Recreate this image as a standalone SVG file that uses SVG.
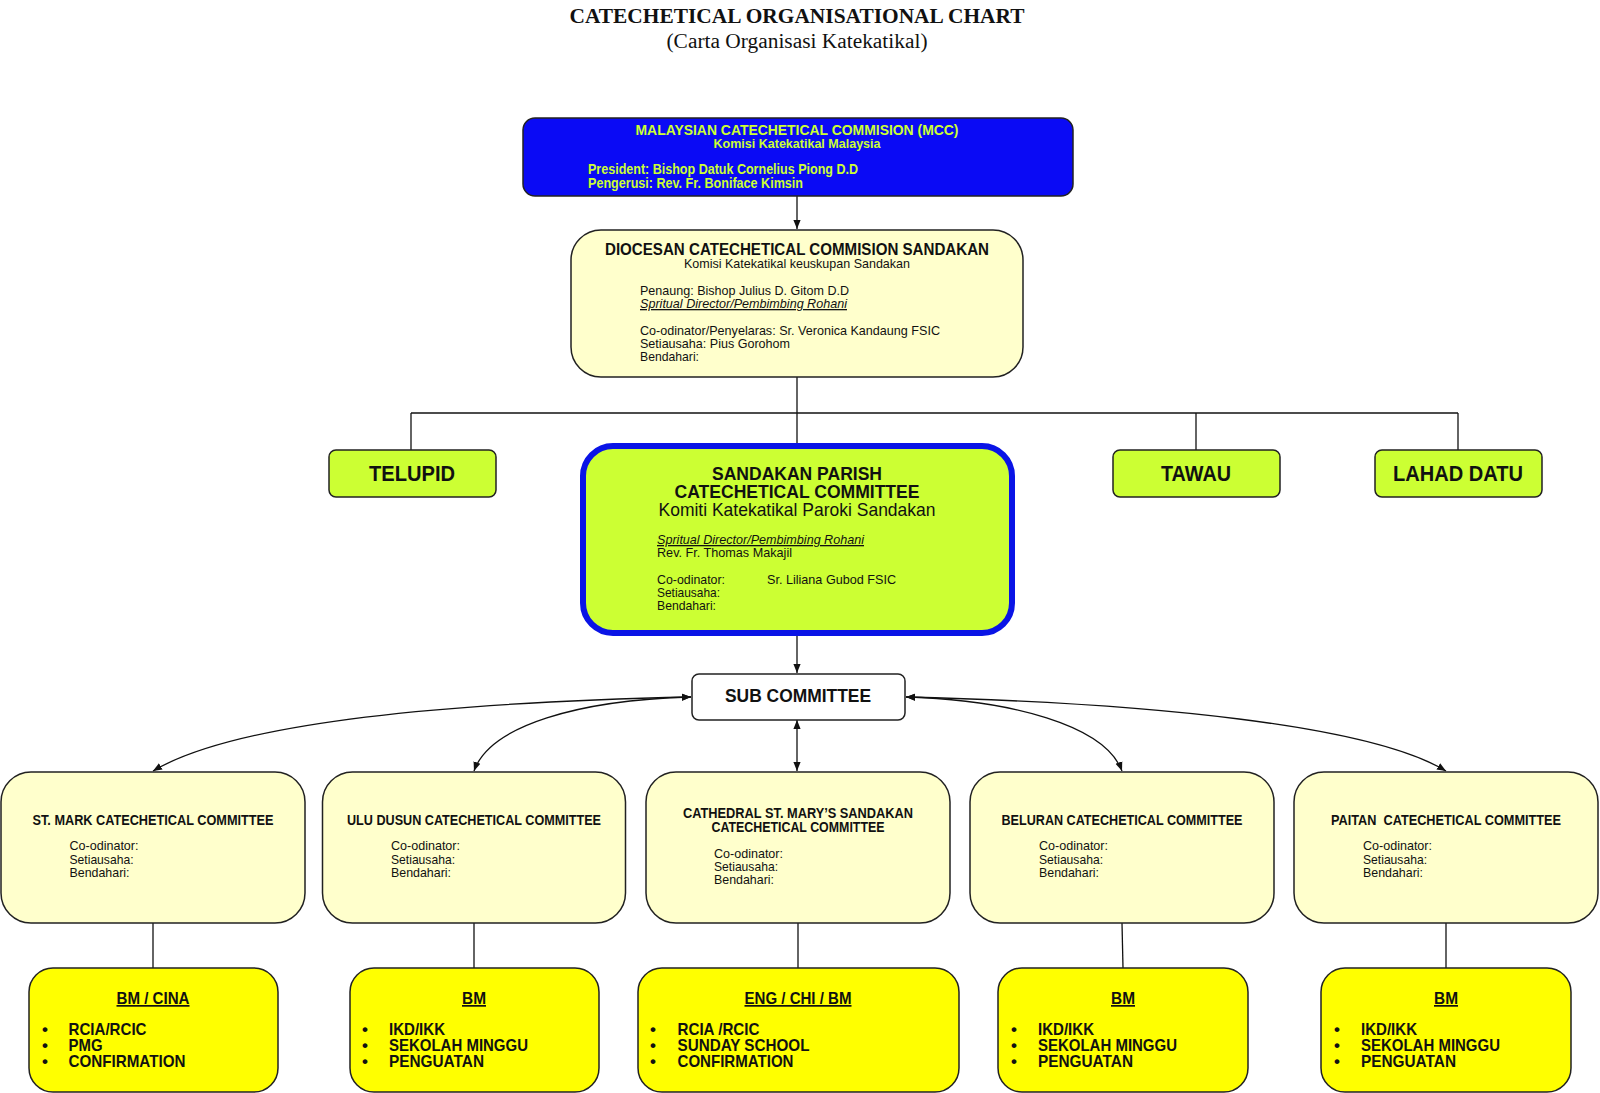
<svg xmlns="http://www.w3.org/2000/svg" width="1600" height="1093" viewBox="0 0 1600 1093">
<style>
.bg{fill:#ffffff}
.box{stroke:#222;stroke-width:1.5}
.cream{fill:#FFFFCC}
.lime{fill:#CCFF33}
.yel{fill:#FFFF00}
.blue{fill:#0A0AF5}
.t{font-family:"Liberation Sans Narrow","Liberation Sans",Arial,sans-serif;fill:#111}
.b{font-weight:bold}
.c{text-anchor:middle}
.i{font-style:italic;text-decoration:underline}
.u{text-decoration:underline}
.y{fill:#CCFF33}
.conn{fill:none;stroke:#111;stroke-width:1.3}
.ttl{font-family:"Liberation Serif","Times New Roman",serif;fill:#111;text-anchor:middle}
</style>
<defs>
<marker id="ah" viewBox="0 0 10 10" refX="10" refY="5" markerWidth="9" markerHeight="9" markerUnits="userSpaceOnUse" orient="auto-start-reverse">
<path d="M0,1 L10,5 L0,9 z" fill="#111"/>
</marker>
</defs>
<rect class="bg" x="0" y="0" width="1600" height="1093"/>

<g id="title">
<text class="ttl" x="797" y="23" font-size="20" font-weight="bold" textLength="455" lengthAdjust="spacingAndGlyphs">CATECHETICAL ORGANISATIONAL CHART</text>
<text class="ttl" x="797" y="48" font-size="20" textLength="261" lengthAdjust="spacingAndGlyphs">(Carta Organisasi Katekatikal)</text>
</g>

<g id="connectors">
<line class="conn" x1="797" y1="196" x2="797" y2="229" marker-end="url(#ah)"/>
<line class="conn" x1="797" y1="377" x2="797" y2="444"/>
<line class="conn" x1="411" y1="413" x2="1458" y2="413"/>
<line class="conn" x1="411" y1="413" x2="411" y2="450"/>
<line class="conn" x1="1196" y1="413" x2="1196" y2="450"/>
<line class="conn" x1="1458" y1="413" x2="1458" y2="450"/>
<line class="conn" x1="797" y1="636" x2="797" y2="673" marker-end="url(#ah)"/>
<path class="conn" d="M691,697 C420,703 230,725 153,771" marker-start="url(#ah)" marker-end="url(#ah)"/>
<path class="conn" d="M691,697 C580,700 490,725 474,771" marker-start="url(#ah)" marker-end="url(#ah)"/>
<line class="conn" x1="797" y1="720" x2="797" y2="771" marker-start="url(#ah)" marker-end="url(#ah)"/>
<path class="conn" d="M906,697 C1010,700 1105,725 1122,771" marker-start="url(#ah)" marker-end="url(#ah)"/>
<path class="conn" d="M906,697 C1150,703 1370,725 1446,771" marker-start="url(#ah)" marker-end="url(#ah)"/>
<line class="conn" x1="153" y1="923" x2="153" y2="968"/>
<line class="conn" x1="474" y1="923" x2="474" y2="968"/>
<line class="conn" x1="798" y1="923" x2="798" y2="968"/>
<line class="conn" x1="1122" y1="923" x2="1123" y2="968"/>
<line class="conn" x1="1446" y1="923" x2="1446" y2="968"/>
</g>

<g id="mcc">
<rect class="box blue" x="523" y="118" width="550" height="78" rx="12"/>
<text class="t b c y" x="797" y="135" font-size="15" textLength="323" lengthAdjust="spacingAndGlyphs">MALAYSIAN CATECHETICAL COMMISION (MCC)</text>
<text class="t b c y" x="797" y="148" font-size="13" textLength="167" lengthAdjust="spacingAndGlyphs">Komisi Katekatikal Malaysia</text>
<text class="t b y" x="588" y="174" font-size="14" textLength="270" lengthAdjust="spacingAndGlyphs">President: Bishop Datuk Cornelius Piong D.D</text>
<text class="t b y" x="588" y="188" font-size="14" textLength="215" lengthAdjust="spacingAndGlyphs">Pengerusi: Rev. Fr. Boniface Kimsin</text>
</g>

<g id="diocesan">
<rect class="box cream" x="571" y="230" width="452" height="147" rx="30"/>
<text class="t b c" x="797" y="254.5" font-size="16" textLength="384" lengthAdjust="spacingAndGlyphs">DIOCESAN CATECHETICAL COMMISION SANDAKAN</text>
<text class="t c" x="797" y="268" font-size="13" textLength="226" lengthAdjust="spacingAndGlyphs">Komisi Katekatikal keuskupan Sandakan</text>
<text class="t" x="640" y="295" font-size="13" textLength="209" lengthAdjust="spacingAndGlyphs">Penaung: Bishop Julius D. Gitom D.D</text>
<text class="t i" x="640" y="308" font-size="13" textLength="207" lengthAdjust="spacingAndGlyphs">Spritual Director/Pembimbing Rohani</text>
<text class="t" x="640" y="334.5" font-size="13" textLength="300" lengthAdjust="spacingAndGlyphs">Co-odinator/Penyelaras: Sr. Veronica Kandaung FSIC</text>
<text class="t" x="640" y="347.5" font-size="13" textLength="150" lengthAdjust="spacingAndGlyphs">Setiausaha: Pius Gorohom</text>
<text class="t" x="640" y="360.5" font-size="13" textLength="59" lengthAdjust="spacingAndGlyphs">Bendahari:</text>
</g>

<g id="telupid">
<rect class="box lime" x="329" y="450" width="167" height="47" rx="7"/>
<text class="t b c" x="412" y="481" font-size="22" textLength="86" lengthAdjust="spacingAndGlyphs">TELUPID</text>
</g>
<g id="tawau">
<rect class="box lime" x="1113" y="450" width="167" height="47" rx="7"/>
<text class="t b c" x="1196" y="481" font-size="22" textLength="70" lengthAdjust="spacingAndGlyphs">TAWAU</text>
</g>
<g id="lahad-datu">
<rect class="box lime" x="1375" y="450" width="167" height="47" rx="7"/>
<text class="t b c" x="1458" y="481" font-size="22" textLength="130" lengthAdjust="spacingAndGlyphs">LAHAD DATU</text>
</g>

<g id="sandakan-parish">
<rect x="583" y="446" width="429" height="187" rx="30" fill="#CCFF33" stroke="#0A14E6" stroke-width="6"/>
<text class="t b c" x="797" y="480" font-size="19" textLength="170" lengthAdjust="spacingAndGlyphs">SANDAKAN PARISH</text>
<text class="t b c" x="797" y="498" font-size="19" textLength="245" lengthAdjust="spacingAndGlyphs">CATECHETICAL COMMITTEE</text>
<text class="t c" x="797" y="516" font-size="19" textLength="277" lengthAdjust="spacingAndGlyphs">Komiti Katekatikal Paroki Sandakan</text>
<text class="t i" x="657" y="544" font-size="13" textLength="207" lengthAdjust="spacingAndGlyphs">Spritual Director/Pembimbing Rohani</text>
<text class="t" x="657" y="557" font-size="13" textLength="135" lengthAdjust="spacingAndGlyphs">Rev. Fr. Thomas Makajil</text>
<text class="t" x="657" y="583.5" font-size="13" textLength="68" lengthAdjust="spacingAndGlyphs">Co-odinator:</text>
<text class="t" x="767" y="583.5" font-size="13" textLength="129" lengthAdjust="spacingAndGlyphs">Sr. Liliana Gubod FSIC</text>
<text class="t" x="657" y="596.5" font-size="13" textLength="63" lengthAdjust="spacingAndGlyphs">Setiausaha:</text>
<text class="t" x="657" y="609.5" font-size="13" textLength="59" lengthAdjust="spacingAndGlyphs">Bendahari:</text>
</g>

<g id="sub-committee">
<rect class="box" fill="#ffffff" x="692" y="674" width="213" height="46" rx="7"/>
<text class="t b c" x="798" y="702" font-size="19" textLength="146" lengthAdjust="spacingAndGlyphs">SUB COMMITTEE</text>
</g>

<g id="st-mark">
<rect class="box cream" x="1" y="772" width="304" height="151" rx="30"/>
<text class="t b c" x="153" y="824.5" font-size="14" textLength="241" lengthAdjust="spacingAndGlyphs">ST. MARK CATECHETICAL COMMITTEE</text>
<text class="t" x="69.5" y="850" font-size="13" textLength="69" lengthAdjust="spacingAndGlyphs">Co-odinator:</text>
<text class="t" x="69.5" y="863.5" font-size="13" textLength="64" lengthAdjust="spacingAndGlyphs">Setiausaha:</text>
<text class="t" x="69.5" y="876.5" font-size="13" textLength="60" lengthAdjust="spacingAndGlyphs">Bendahari:</text>
</g>

<g id="ulu-dusun">
<rect class="box cream" x="322.5" y="772" width="303" height="151" rx="30"/>
<text class="t b c" x="474" y="824.5" font-size="14" textLength="254" lengthAdjust="spacingAndGlyphs">ULU DUSUN CATECHETICAL COMMITTEE</text>
<text class="t" x="391" y="850" font-size="13" textLength="69" lengthAdjust="spacingAndGlyphs">Co-odinator:</text>
<text class="t" x="391" y="863.5" font-size="13" textLength="64" lengthAdjust="spacingAndGlyphs">Setiausaha:</text>
<text class="t" x="391" y="876.5" font-size="13" textLength="60" lengthAdjust="spacingAndGlyphs">Bendahari:</text>
</g>

<g id="cathedral">
<rect class="box cream" x="646" y="772" width="304" height="151" rx="30"/>
<text class="t b c" x="798" y="818" font-size="14" textLength="230" lengthAdjust="spacingAndGlyphs">CATHEDRAL ST. MARY’S SANDAKAN</text>
<text class="t b c" x="798" y="831.5" font-size="14" textLength="173" lengthAdjust="spacingAndGlyphs">CATECHETICAL COMMITTEE</text>
<text class="t" x="714" y="857.5" font-size="13" textLength="69" lengthAdjust="spacingAndGlyphs">Co-odinator:</text>
<text class="t" x="714" y="871" font-size="13" textLength="64" lengthAdjust="spacingAndGlyphs">Setiausaha:</text>
<text class="t" x="714" y="884" font-size="13" textLength="60" lengthAdjust="spacingAndGlyphs">Bendahari:</text>
</g>

<g id="beluran">
<rect class="box cream" x="970" y="772" width="304" height="151" rx="30"/>
<text class="t b c" x="1122" y="824.5" font-size="14" textLength="241" lengthAdjust="spacingAndGlyphs">BELURAN CATECHETICAL COMMITTEE</text>
<text class="t" x="1039" y="850" font-size="13" textLength="69" lengthAdjust="spacingAndGlyphs">Co-odinator:</text>
<text class="t" x="1039" y="863.5" font-size="13" textLength="64" lengthAdjust="spacingAndGlyphs">Setiausaha:</text>
<text class="t" x="1039" y="876.5" font-size="13" textLength="60" lengthAdjust="spacingAndGlyphs">Bendahari:</text>
</g>

<g id="paitan">
<rect class="box cream" x="1294" y="772" width="304" height="151" rx="30"/>
<text class="t b c" x="1446" y="824.5" font-size="14" textLength="230" lengthAdjust="spacingAndGlyphs" xml:space="preserve">PAITAN  CATECHETICAL COMMITTEE</text>
<text class="t" x="1363" y="850" font-size="13" textLength="69" lengthAdjust="spacingAndGlyphs">Co-odinator:</text>
<text class="t" x="1363" y="863.5" font-size="13" textLength="64" lengthAdjust="spacingAndGlyphs">Setiausaha:</text>
<text class="t" x="1363" y="876.5" font-size="13" textLength="60" lengthAdjust="spacingAndGlyphs">Bendahari:</text>
</g>

<g id="st-mark-programs">
<rect class="box yel" x="29" y="968" width="249" height="124" rx="24"/>
<text class="t b c u" x="153" y="1004" font-size="17" textLength="73" lengthAdjust="spacingAndGlyphs">BM / CINA</text>
<text class="t b" x="42" y="1035" font-size="17">•</text>
<text class="t b" x="42" y="1051" font-size="17">•</text>
<text class="t b" x="42" y="1067" font-size="17">•</text>
<text class="t b" x="68.5" y="1035" font-size="17" textLength="78" lengthAdjust="spacingAndGlyphs">RCIA/RCIC</text>
<text class="t b" x="68.5" y="1051" font-size="17" textLength="34" lengthAdjust="spacingAndGlyphs">PMG</text>
<text class="t b" x="68.5" y="1067" font-size="17" textLength="117" lengthAdjust="spacingAndGlyphs">CONFIRMATION</text>
</g>

<g id="ulu-dusun-programs">
<rect class="box yel" x="350" y="968" width="249" height="124" rx="24"/>
<text class="t b c u" x="474" y="1004" font-size="17" textLength="24" lengthAdjust="spacingAndGlyphs">BM</text>
<text class="t b" x="362" y="1035" font-size="17">•</text>
<text class="t b" x="362" y="1051" font-size="17">•</text>
<text class="t b" x="362" y="1067" font-size="17">•</text>
<text class="t b" x="389" y="1035" font-size="17" textLength="56" lengthAdjust="spacingAndGlyphs">IKD/IKK</text>
<text class="t b" x="389" y="1051" font-size="17" textLength="139" lengthAdjust="spacingAndGlyphs">SEKOLAH MINGGU</text>
<text class="t b" x="389" y="1067" font-size="17" textLength="95" lengthAdjust="spacingAndGlyphs">PENGUATAN</text>
</g>

<g id="cathedral-programs">
<rect class="box yel" x="638" y="968" width="321" height="124" rx="24"/>
<text class="t b c u" x="798" y="1004" font-size="17" textLength="107" lengthAdjust="spacingAndGlyphs">ENG / CHI / BM</text>
<text class="t b" x="650" y="1035" font-size="17">•</text>
<text class="t b" x="650" y="1051" font-size="17">•</text>
<text class="t b" x="650" y="1067" font-size="17">•</text>
<text class="t b" x="677.5" y="1035" font-size="17" textLength="82" lengthAdjust="spacingAndGlyphs">RCIA /RCIC</text>
<text class="t b" x="677.5" y="1051" font-size="17" textLength="132" lengthAdjust="spacingAndGlyphs">SUNDAY SCHOOL</text>
<text class="t b" x="677.5" y="1067" font-size="17" textLength="116" lengthAdjust="spacingAndGlyphs">CONFIRMATION</text>
</g>

<g id="beluran-programs">
<rect class="box yel" x="998" y="968" width="250" height="124" rx="24"/>
<text class="t b c u" x="1123" y="1004" font-size="17" textLength="24" lengthAdjust="spacingAndGlyphs">BM</text>
<text class="t b" x="1011" y="1035" font-size="17">•</text>
<text class="t b" x="1011" y="1051" font-size="17">•</text>
<text class="t b" x="1011" y="1067" font-size="17">•</text>
<text class="t b" x="1038" y="1035" font-size="17" textLength="56" lengthAdjust="spacingAndGlyphs">IKD/IKK</text>
<text class="t b" x="1038" y="1051" font-size="17" textLength="139" lengthAdjust="spacingAndGlyphs">SEKOLAH MINGGU</text>
<text class="t b" x="1038" y="1067" font-size="17" textLength="95" lengthAdjust="spacingAndGlyphs">PENGUATAN</text>
</g>

<g id="paitan-programs">
<rect class="box yel" x="1321" y="968" width="250" height="124" rx="24"/>
<text class="t b c u" x="1446" y="1004" font-size="17" textLength="24" lengthAdjust="spacingAndGlyphs">BM</text>
<text class="t b" x="1334" y="1035" font-size="17">•</text>
<text class="t b" x="1334" y="1051" font-size="17">•</text>
<text class="t b" x="1334" y="1067" font-size="17">•</text>
<text class="t b" x="1361" y="1035" font-size="17" textLength="56" lengthAdjust="spacingAndGlyphs">IKD/IKK</text>
<text class="t b" x="1361" y="1051" font-size="17" textLength="139" lengthAdjust="spacingAndGlyphs">SEKOLAH MINGGU</text>
<text class="t b" x="1361" y="1067" font-size="17" textLength="95" lengthAdjust="spacingAndGlyphs">PENGUATAN</text>
</g>
</svg>
